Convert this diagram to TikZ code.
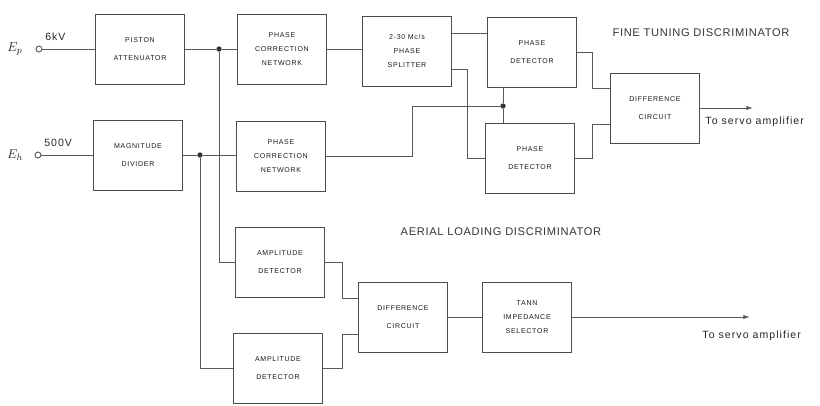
\documentclass[tikz,border=0pt]{standalone}
\usepackage{fontspec}
\newfontfamily\boxfont[LetterSpace=10]{Liberation Sans}
\newfontfamily\titlefont[LetterSpace=6]{Liberation Sans}
\newfontfamily\notefont[LetterSpace=10]{Liberation Sans}
\usetikzlibrary{positioning}
\usetikzlibrary{arrows.meta}
\tikzset{>={Latex[width=1.3mm,length=2mm]}}

\begin{document}
\begin{tikzpicture}[x=0.3mm, y=-0.3mm, line width=0.8pt, color=black!65, block/.style={rectangle, draw=black!70, text=black!90, minimum width=2.67cm, minimum height=2.1cm, align=center, inner sep=1pt, font=\boxfont\fontsize{6}{12}\selectfont}, term/.style={circle, draw, fill=white, inner sep=0pt, minimum size=1.8mm}, junction/.style={circle, fill=black!80, inner sep=0pt, minimum size=1.6mm}, title/.style={text=black!80, font=\titlefont\fontsize{9.5}{11}\selectfont}, emptynode/.style={draw=none, fill=none, text=black!85, inner sep=0pt, font=\notefont\fontsize{9}{11}\selectfont}]
    \useasboundingbox (0,0) rectangle (820,405);
    
    %Nodes
    \node[block](piston) at (140,49){PISTON\\[3pt]ATTENUATOR};
    \node[block](phasecorr_a) at (282,49){PHASE\\CORRECTION\\NETWORK};
    \node[block](splitter) at (407,51){2-30 Mc/s\\PHASE\\SPLITTER};
    \node[block](detector_a) at (532,52){PHASE\\[3pt]DETECTOR};
    \node[block](detector_b) at (530,158){PHASE\\[3pt]DETECTOR};
    \node[block](difference_a) at (655,108){DIFFERENCE\\[3pt]CIRCUIT};
    \node[block](magnitude) at (138,155){MAGNITUDE\\[3pt]DIVIDER};
    \node[block](phasecorr_b) at (281,156){PHASE\\CORRECTION\\NETWORK};
    \node[block](amplitude_a) at (280,262){AMPLITUDE\\[3pt]DETECTOR};
    \node[block](amplitude_b) at (278,368){AMPLITUDE\\[3pt]DETECTOR};
    \node[block](difference_b) at (403,317){DIFFERENCE\\[3pt]CIRCUIT};
    \node[block](tann) at (527,317){TANN\\IMPEDANCE\\SELECTOR};
    
    \node[term](ep) at (39,49){};
    \node[term](eh) at (38,155){};
    \node[junction](split_a) at (219,49){};
    \node[junction](split_b) at (200,155){};
    \node[junction](split_c) at (503,106){};
    \coordinate(servo_a) at (753,108);
    \coordinate(servo_b) at (750,317);
    
    \node[emptynode, font=\fontsize{11}{13}\selectfont](ep_text) at (15,49){$E_p$};
    \node[emptynode, font=\fontsize{11}{13}\selectfont](eh_text) at (15,155){$E_h$};
    \node[emptynode](ep_volts)[above right=1.5mm and 1mm of ep]{6kV};
    \node[emptynode](eh_volts)[above right=1.5mm and 1mm of eh]{500V};
    \node[emptynode, anchor=west](servo_a_text) at (705,122){To servo amplifier};
    \node[emptynode, anchor=west](servo_b_text) at (702,336){To servo amplifier};
    \node[title](fine_text) at (701,33){FINE TUNING DISCRIMINATOR};
    \node[title](aerial_text) at (501,232){AERIAL LOADING DISCRIMINATOR};
    
    %Lines
    \draw (ep) -- (piston);
    \draw (piston) -- (split_a) -- (phasecorr_a);
    \draw (split_a) |- (amplitude_a);
    \draw (eh) -- (magnitude);
    \draw (magnitude) -- (split_b) -- (split_b -| phasecorr_b.west);
    \draw (split_b) |- (amplitude_b);
    \draw (phasecorr_a) -- (phasecorr_a.east -| splitter.west);
    \draw (splitter.east |- 0,33) -- (detector_a.west |- 0,33);
    \draw (splitter.east |- 0,69) -- (467,69) |- (detector_b);
    \draw (phasecorr_b) -- (412,156) |- (split_c);
    \draw (split_c) -- (split_c |- detector_a.south);
    \draw (split_c) -- (split_c |- detector_b.north);
    \draw (detector_a) -| (592,88) -- (difference_a.west |- 0,88);
    \draw (detector_b) -| (592,124) -- (difference_a.west |- 0,124);
    \draw[->] (difference_a) -- (servo_a);
    \draw (amplitude_a) -| (342,298) -- (difference_b.west |- 0,298);
    \draw (amplitude_b) -| (342,334) -- (difference_b.west |- 0,334);
    \draw (difference_b) -- (tann);
    \draw[->] (tann) -- (servo_b);
    
\end{tikzpicture}
\end{document}
